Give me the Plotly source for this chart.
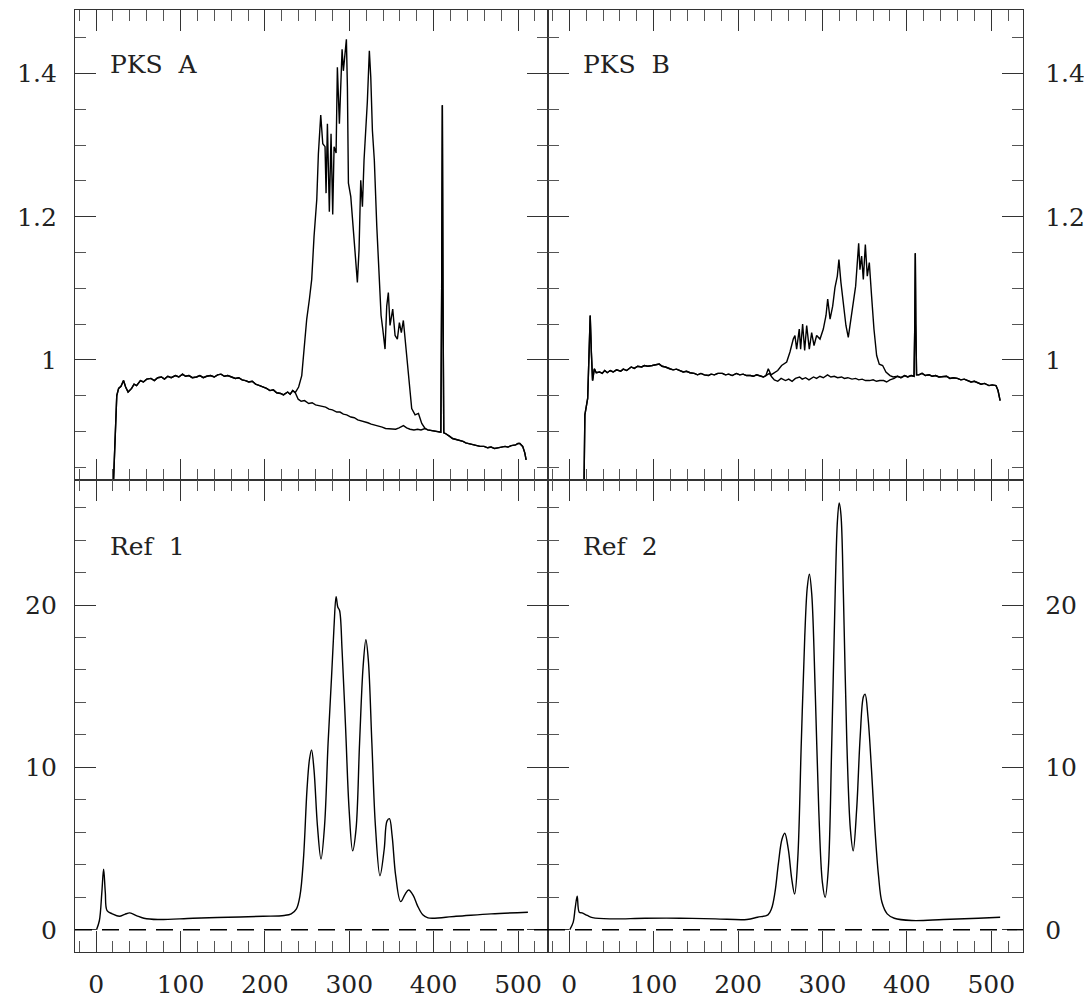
import plotly.graph_objects as go

# ---------------- PKS A (top-left) ----------------
pksa_common_x = [19.0, 22.0, 24.5, 26.7, 29.5, 32.5, 35.0, 37.9, 40.0, 42.1, 45.0, 48.0, 52.5, 56.0, 60.0,
                 65.0, 69.0, 73.0, 77.4, 81.0, 85.0, 89.0, 94.0, 98.0, 102.4, 106.0, 110.0, 114.0, 119.0,
                 123.0, 127.0, 131.0, 135.6, 140.0, 144.0, 148.0, 152.0, 156.0, 160.5, 165.0, 169.0, 173.0,
                 177.0, 181.0, 185.0, 189.0, 193.8, 198.0, 202.0, 206.0, 210.0, 214.0, 218.7, 222.0, 227.0,
                 230.0, 233.0, 236.0]
pksa_common_y = [0.78, 0.88, 0.950, 0.960, 0.963, 0.971, 0.962, 0.955, 0.957, 0.960, 0.966, 0.964, 0.971,
                 0.969, 0.973, 0.974, 0.971, 0.975, 0.976, 0.973, 0.977, 0.975, 0.978, 0.976, 0.980, 0.977,
                 0.978, 0.975, 0.976, 0.978, 0.975, 0.977, 0.978, 0.976, 0.979, 0.980, 0.977, 0.978, 0.976,
                 0.974, 0.975, 0.972, 0.971, 0.969, 0.970, 0.966, 0.964, 0.962, 0.960, 0.957, 0.958, 0.954,
                 0.953, 0.951, 0.955, 0.952, 0.957, 0.954]
pksa_on_x = [237.8, 240.0, 243.7, 246.5, 249.6, 252.8, 255.5, 258.3, 259.5, 261.5, 263.4, 266.2, 268.6,
             271.3, 272.5, 274.1, 276.4, 278.4, 280.4, 282.0, 284.4, 285.9, 288.3, 290.0, 291.5, 293.0,
             295.0, 296.6, 297.8, 299.0, 301.8, 304.1, 306.9, 309.6, 311.6, 313.6, 315.6, 317.5, 319.9,
             321.4, 323.8, 325.5, 327.4, 329.7, 332.6, 335.3, 337.7, 339.7, 342.4, 344.4, 346.3, 348.3,
             351.5, 354.3, 357.0, 359.4, 361.7, 364.1, 366.1, 368.1, 370.9, 374.0, 378.0, 382.0, 385.9]
pksa_on_y = [0.958, 0.962, 0.978, 1.015, 1.057, 1.085, 1.1125, 1.173, 1.196, 1.224, 1.288, 1.342, 1.302,
             1.298, 1.233, 1.330, 1.207, 1.316, 1.203, 1.298, 1.289, 1.409, 1.330, 1.400, 1.434, 1.404,
             1.427, 1.448, 1.381, 1.247, 1.228, 1.187, 1.150, 1.108, 1.154, 1.251, 1.214, 1.279, 1.321,
             1.360, 1.432, 1.395, 1.321, 1.279, 1.187, 1.122, 1.062, 1.043, 1.015, 1.075, 1.094, 1.048,
             1.071, 1.034, 1.029, 1.052, 1.038, 1.055, 1.029, 1.001, 0.964, 0.932, 0.923, 0.925, 0.911]
pksa_off_x = [239.5, 243.0, 247.0, 252.0, 256.0, 260.0, 264.0, 268.6, 272.0, 276.0, 280.0, 285.2, 289.0,
              293.0, 297.0, 301.9, 306.0, 310.0, 314.0, 318.5, 322.0, 326.0, 330.0, 335.1, 339.0, 343.0,
              347.0, 351.7, 355.0, 359.0, 364.2, 368.0, 372.0, 376.7, 381.0, 385.0]
pksa_off_y = [0.945, 0.942, 0.943, 0.939, 0.940, 0.937, 0.936, 0.934, 0.934, 0.931, 0.930, 0.927, 0.927,
              0.924, 0.923, 0.920, 0.919, 0.916, 0.915, 0.913, 0.912, 0.910, 0.909, 0.907, 0.906, 0.904,
              0.904, 0.903, 0.903, 0.905, 0.908, 0.905, 0.903, 0.902, 0.903, 0.902]
pksa_tail_x = [389.8, 393.0, 397.0, 401.6, 405.0, 408.5, 409.5, 410.3, 411.0, 412.0, 414.0, 416.0, 419.0,
               422.4, 426.0, 430.0, 434.8, 438.0, 442.0, 447.3, 451.0, 455.0, 459.7, 464.0, 468.0, 472.3,
               476.0, 480.0, 484.6, 488.0, 492.0, 497.2, 500.0, 502.1, 505.5, 508.0, 509.6]
pksa_tail_y = [0.904, 0.902, 0.901, 0.900, 0.899, 0.899, 1.100, 1.356, 1.100, 0.898, 0.897, 0.895, 0.893,
               0.890, 0.889, 0.887, 0.886, 0.884, 0.883, 0.881, 0.880, 0.879, 0.879, 0.877, 0.878, 0.876,
               0.877, 0.878, 0.879, 0.878, 0.880, 0.881, 0.883, 0.883, 0.879, 0.870, 0.860]

# ---------------- PKS B (top-right) ----------------
pksb_common_x = [17.0, 18.5, 21.8, 23.3, 24.8, 26.2, 27.6, 29.7, 32.0, 35.9, 39.0, 42.0, 45.0, 48.5, 52.0,
                 56.0, 60.9, 64.0, 68.0, 73.4, 77.0, 81.0, 85.8, 89.0, 93.0, 98.3, 102.0, 106.6, 110.0,
                 114.0, 119.1, 123.0, 127.0, 131.5, 135.0, 139.0, 143.0, 148.1, 152.0, 156.0, 160.0, 164.8,
                 168.0, 172.0, 176.0, 181.4, 185.0, 189.0, 193.0, 198.0, 202.0, 206.0, 210.0, 214.6, 218.0,
                 222.0, 226.0, 230.0, 233.0]
pksb_common_y = [0.78, 0.923, 0.946, 1.000, 1.062, 1.010, 0.971, 0.9875, 0.982, 0.983, 0.981, 0.985, 0.982,
                 0.985, 0.983, 0.986, 0.984, 0.987, 0.985, 0.990, 0.988, 0.991, 0.990, 0.992, 0.991, 0.992,
                 0.993, 0.994, 0.991, 0.990, 0.9875, 0.986, 0.987, 0.985, 0.983, 0.984, 0.982, 0.981, 0.979,
                 0.981, 0.979, 0.978, 0.980, 0.979, 0.981, 0.981, 0.979, 0.980, 0.978, 0.981, 0.979, 0.980,
                 0.978, 0.978, 0.977, 0.979, 0.978, 0.976, 0.978]
pksb_on_x = [235.8, 239.0, 243.7, 247.0, 251.6, 257.6, 261.5, 265.4, 267.4, 269.4, 272.5, 274.1, 276.5,
             278.9, 281.3, 284.4, 287.2, 290.0, 293.1, 297.1, 301.0, 304.2, 306.2, 309.0, 312.1, 314.8,
             317.6, 319.5, 321.9, 324.7, 327.8, 330.6, 333.4, 336.5, 339.3, 341.7, 342.9, 344.4, 346.4,
             348.4, 350.8, 353.1, 355.5, 358.2, 361.0, 364.2, 367.3, 371.3, 375.2, 380.0, 383.9]
pksb_on_y = [0.9875, 0.979, 0.983, 0.985, 0.992, 0.997, 1.011, 1.029, 1.034, 1.015, 1.043, 1.015, 1.050,
             1.013, 1.048, 1.015, 1.038, 1.020, 1.034, 1.029, 1.043, 1.062, 1.085, 1.057, 1.075, 1.101,
             1.117, 1.140, 1.108, 1.075, 1.048, 1.0315, 1.052, 1.080, 1.103, 1.136, 1.163, 1.126, 1.145,
             1.1125, 1.161, 1.117, 1.136, 1.089, 1.043, 1.006, 0.994, 0.992, 0.983, 0.978, 0.976]
pksb_off_x = [237.0, 240.0, 243.0, 247.0, 251.0, 256.2, 260.0, 264.0, 268.0, 272.9, 276.0, 280.0, 284.0,
              289.4, 293.0, 297.0, 301.0, 306.0, 310.0, 314.0, 318.0, 322.6, 326.0, 330.0, 335.0, 339.3,
              343.0, 347.0, 351.0, 355.9, 360.0, 364.0, 368.0, 372.5, 376.0, 380.0, 385.0]
pksb_off_y = [0.981, 0.976, 0.972, 0.970, 0.974, 0.971, 0.973, 0.970, 0.974, 0.976, 0.973, 0.975, 0.972,
              0.976, 0.974, 0.977, 0.975, 0.979, 0.976, 0.977, 0.975, 0.976, 0.974, 0.975, 0.973, 0.974,
              0.972, 0.973, 0.971, 0.971, 0.972, 0.970, 0.971, 0.971, 0.969, 0.972, 0.974]
pksb_tail_x = [389.0, 393.0, 397.5, 401.0, 405.0, 408.5, 409.4, 410.0, 410.6, 411.5, 414.1, 418.0, 422.0,
               426.5, 430.0, 434.0, 438.0, 443.2, 447.0, 451.0, 455.0, 459.8, 464.0, 468.0, 472.3, 476.0,
               480.0, 484.7, 488.0, 492.0, 497.3, 501.0, 505.6, 508.0, 510.5]
pksb_tail_y = [0.977, 0.975, 0.978, 0.976, 0.978, 0.977, 1.050, 1.149, 1.050, 0.979, 0.979, 0.981, 0.978,
               0.979, 0.977, 0.978, 0.976, 0.976, 0.977, 0.974, 0.975, 0.974, 0.972, 0.973, 0.971, 0.969,
               0.970, 0.967, 0.966, 0.967, 0.964, 0.965, 0.964, 0.957, 0.943]

# ---------------- Ref 1 (bottom-left) ----------------
ref1_x = [0.5, 3.9, 6.8, 8.9, 10.9, 13.0, 19.2, 27.6, 34.0, 40.0, 48.3, 56.6, 73.2, 114.8, 156.4, 198.0,
          222.9, 231.2, 237.4, 241.6, 245.7, 249.9, 252.8, 255.3, 258.2, 262.3, 266.5, 270.7, 274.9, 279.0,
          281.9, 284.4, 286.5, 288.5, 291.5, 295.6, 299.8, 304.0, 308.0, 312.2, 316.4, 319.7, 322.6, 326.8,
          331.0, 336.4, 341.4, 344.7, 347.6, 350.8, 355.0, 360.9, 366.3, 370.4, 375.9, 380.8, 387.1, 393.3,
          426.5, 468.0, 511.7]
ref1_y = [0.0, 0.57, 2.3, 3.73, 2.3, 1.18, 0.98, 0.83, 0.95, 1.04, 0.86, 0.71, 0.63, 0.71, 0.77, 0.83,
          0.88, 0.98, 1.29, 2.1, 4.35, 8.63, 10.47, 11.08, 9.86, 6.39, 4.35, 6.39, 11.49, 15.57,
          18.63, 20.51, 19.86, 19.66, 17.2, 12.5, 7.41, 4.86, 6.18, 11.49, 16.2, 17.86, 16.6, 11.49,
          6.39, 3.33, 4.96, 6.69, 6.84, 5.78, 3.33, 1.73, 2.2, 2.45, 2.1, 1.49, 0.92, 0.73,
          0.83, 0.98, 1.08]

# ---------------- Ref 2 (bottom-right) ----------------
ref2_x = [0.6, 4.7, 6.9, 9.4, 11.8, 15.2, 21.4, 27.6, 48.5, 89.9, 131.5, 173.1, 210.5, 223.0, 235.4,
          239.6, 243.7, 247.9, 252.0, 255.3, 259.5, 263.6, 267.0, 270.7, 274.9, 279.0, 282.0, 284.5,
          287.3, 291.5, 295.6, 299.9, 303.2, 306.9, 311.0, 315.2, 317.7, 319.8, 321.9, 324.8, 328.9,
          333.1, 336.4, 340.5, 344.7, 348.5, 350.5, 353.9, 358.1, 362.2, 366.4, 370.5, 376.7, 385.1,
          405.8, 443.2, 484.7, 510.5]
ref2_y = [0.0, 0.47, 1.29, 2.06, 1.08, 1.04, 0.88, 0.75, 0.67, 0.71, 0.71, 0.67, 0.63, 0.77, 0.92,
          1.29, 2.3, 4.14, 5.57, 5.94, 4.96, 3.12, 2.2, 4.35, 11.49, 18.02, 21.08, 21.9,
          20.67, 14.55, 7.41, 2.92, 2.0, 3.73, 11.49, 21.08, 25.17, 26.29, 25.57, 20.67, 11.49,
          6.18, 4.86, 7.41, 11.9, 14.35, 14.51, 13.12, 9.86, 6.18, 3.33, 1.69, 0.98, 0.71,
          0.57, 0.63, 0.71, 0.77]

panel_labels = ["PKS\u00a0\u00a0A", "PKS\u00a0\u00a0B", "Ref\u00a0\u00a01", "Ref\u00a0\u00a02"]
top_ticks = [1.0, 1.2, 1.4]
top_ticktext = ["1", "1.2", "1.4"]
bot_ticks = [0, 10, 20]
bot_ticktext = ["0", "10", "20"]

FONT = "DejaVu Serif"
LINE = dict(color="black", width=1.4)

fig = go.Figure()

def add(xa, ya, xs, ys, shape="linear"):
    fig.add_trace(go.Scatter(x=xs, y=ys, mode="lines", line=dict(LINE, shape=shape),
                             xaxis=xa, yaxis=ya, showlegend=False, hoverinfo="skip"))

# PKS A: on-source and off-source spectra
add("x", "y", pksa_common_x + pksa_on_x + pksa_tail_x, pksa_common_y + pksa_on_y + pksa_tail_y)
add("x", "y", pksa_common_x + pksa_off_x + pksa_tail_x, pksa_common_y + pksa_off_y + pksa_tail_y)
# PKS B
add("x2", "y2", pksb_common_x + pksb_on_x + pksb_tail_x, pksb_common_y + pksb_on_y + pksb_tail_y)
add("x2", "y2", pksb_common_x + pksb_off_x + pksb_tail_x, pksb_common_y + pksb_off_y + pksb_tail_y)
# Ref 1 / Ref 2
add("x3", "y3", ref1_x, ref1_y, "spline")
add("x4", "y4", ref2_x, ref2_y, "spline")

# geometry (plot area 948 x 948 px)
xsplit = (548 - 75) / 948.0
ysplit = (957 - 482) / 948.0

def xax(domain, rng, anchor, labels):
    return dict(domain=domain, range=rng, anchor=anchor, tickmode="linear", tick0=0, dtick=100,
                ticks="inside", ticklen=21, tickwidth=1.3, tickcolor="#333",
                showline=True, linecolor="#333", linewidth=1.3, mirror="ticks",
                minor=dict(dtick=20, tick0=0, ticks="inside", ticklen=11, tickwidth=1.1, tickcolor="#555"),
                showgrid=False, zeroline=False, showticklabels=labels,
                tickfont=dict(family=FONT, size=25, color="#222"), ticklabelstandoff=10)

def yax(domain, rng, anchor, vals, text, side):
    return dict(domain=domain, range=rng, anchor=anchor, tickmode="array", tickvals=vals, ticktext=text,
                side=side, ticks="inside", ticklen=21, tickwidth=1.3, tickcolor="#333",
                showline=True, linecolor="#333", linewidth=1.3, mirror="ticks",
                minor=dict(dtick=(0.05 if vals[0] == 1.0 else 2), tick0=0, ticks="inside", ticklen=11,
                           tickwidth=1.1, tickcolor="#555"),
                showgrid=False, zeroline=False,
                tickfont=dict(family=FONT, size=25, color="#222"),
                ticklabelstandoff=(12 if side == "left" else 16))

fig.update_layout(
    width=1084, height=992,
    margin=dict(l=67, r=69, t=1, b=43),
    paper_bgcolor="white", plot_bgcolor="white",
    xaxis=xax([0, xsplit], [-25, 535.5], "y", False),
    yaxis=yax([ysplit, 1], [0.832, 1.489], "x", top_ticks, top_ticktext, "left"),
    xaxis2=xax([xsplit, 1], [-25.2, 537.6], "y2", False),
    yaxis2=yax([ysplit, 1], [0.832, 1.489], "x2", top_ticks, top_ticktext, "right"),
    xaxis3=xax([0, xsplit], [-25, 535.5], "y3", True),
    yaxis3=yax([0, ysplit], [-1.37, 27.7], "x3", bot_ticks, bot_ticktext, "left"),
    xaxis4=xax([xsplit, 1], [-25.2, 537.6], "y4", True),
    yaxis4=yax([0, ysplit], [-1.37, 27.7], "x4", bot_ticks, bot_ticktext, "right"),
    showlegend=False,
)

# dashed zero lines in the lower panels
for xa, ya in (("x3", "y3"), ("x4", "y4")):
    fig.add_shape(type="line", xref=xa + " domain", x0=0, x1=1, yref=ya, y0=0, y1=0,
                  line=dict(color="black", width=1.3, dash="17px,10px"))

label_pos = [("x", "y", 0.884), ("x2", "y2", 0.884), ("x3", "y3", 0.859), ("x4", "y4", 0.859)]
for (xa, ya, yy), txt in zip(label_pos, panel_labels):
    fig.add_annotation(text=txt, xref=xa + " domain", yref=ya + " domain", x=0.07, y=yy,
                       xanchor="left", yanchor="middle", showarrow=False,
                       font=dict(family=FONT, size=25, color="#222"))

fig.write_html("out.html")
